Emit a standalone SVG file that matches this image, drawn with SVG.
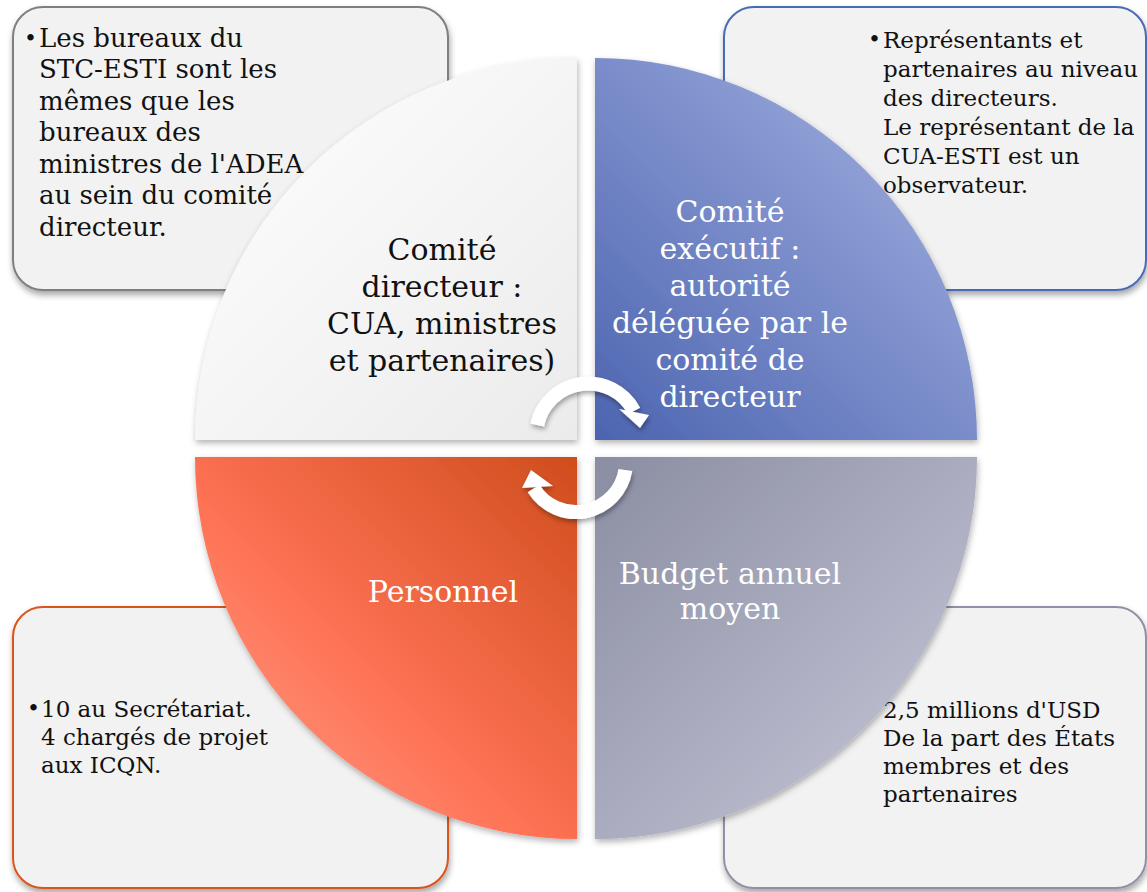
<svg xmlns="http://www.w3.org/2000/svg" width="1147" height="892" viewBox="0 0 1147 892">
<defs>
<style>
.box{fill:#f2f2f2;stroke-width:2;filter:url(#bshadow)}
.bt{font-family:"DejaVu Serif","Liberation Serif",serif;font-size:23px;fill:#111}
.bt2{font-family:"DejaVu Serif","Liberation Serif",serif;font-size:26px;fill:#111}
.bul{font-family:"DejaVu Serif","Liberation Serif",serif;font-size:22px;fill:#111}
.qt{font-family:"DejaVu Serif","Liberation Serif",serif;font-size:30px;text-anchor:middle}
.arc{fill:none;stroke:#fff;stroke-width:14}
</style>
<filter id="bshadow" x="-10%" y="-10%" width="120%" height="125%"><feDropShadow dx="1" dy="4" stdDeviation="3" flood-color="#000" flood-opacity="0.35"/></filter>
<filter id="qshadow" x="-10%" y="-10%" width="120%" height="120%"><feDropShadow dx="1" dy="3" stdDeviation="3" flood-color="#000" flood-opacity="0.3"/></filter>
<filter id="ashadow" x="-30%" y="-30%" width="160%" height="160%"><feDropShadow dx="1" dy="3" stdDeviation="2.5" flood-color="#000" flood-opacity="0.35"/></filter>
<linearGradient id="gTL" x1="0" y1="0" x2="1" y2="1"><stop offset="0" stop-color="#ffffff"/><stop offset="1" stop-color="#ebebeb"/></linearGradient>
<linearGradient id="gTR" x1="1" y1="0" x2="0" y2="1"><stop offset="0" stop-color="#a9b6e4"/><stop offset="1" stop-color="#4c64b0"/></linearGradient>
<linearGradient id="gBL" x1="0" y1="1" x2="1" y2="0"><stop offset="0" stop-color="#ffa391"/><stop offset="0.45" stop-color="#fe7254"/><stop offset="1" stop-color="#cf4d1d"/></linearGradient>
<linearGradient id="gBR" x1="0" y1="0" x2="1" y2="1"><stop offset="0" stop-color="#8b8da2"/><stop offset="1" stop-color="#c9cadb"/></linearGradient>
</defs>
<g id="box-tl">
<rect class="box" x="13" y="7" width="435" height="283" rx="30" stroke="#7f7f7f"/>
<text class="bul" x="24" y="46">•</text>
<text class="bt2" x="39" y="47">Les bureaux du<tspan x="39" y="78">STC-ESTI sont les</tspan><tspan x="39" y="110">mêmes que les</tspan><tspan x="39" y="141">bureaux des</tspan><tspan x="39" y="173">ministres de l'ADEA</tspan><tspan x="39" y="204">au sein du comité</tspan><tspan x="39" y="236">directeur.</tspan></text>
</g>
<g id="box-tr">
<rect class="box" x="724" y="7" width="422" height="283" rx="30" stroke="#4a6ab4"/>
<text class="bul" x="868" y="47">•</text>
<text class="bt" x="883" y="48">Représentants et<tspan x="883" y="77">partenaires au niveau</tspan><tspan x="883" y="106">des directeurs.</tspan><tspan x="883" y="135">Le représentant de la</tspan><tspan x="883" y="164">CUA-ESTI est un</tspan><tspan x="883" y="193">observateur.</tspan></text>
</g>
<g id="box-bl">
<rect class="box" x="13" y="607" width="435" height="281" rx="30" stroke="#d9541e"/>
<text class="bul" x="27" y="716">•</text>
<text class="bt" x="41" y="717">10 au Secrétariat.<tspan x="41" y="745">4 chargés de projet</tspan><tspan x="41" y="773">aux ICQN.</tspan></text>
</g>
<g id="box-br">
<rect class="box" x="724" y="607" width="422" height="281" rx="30" stroke="#8f91a6"/>
<text class="bt" x="883" y="718">2,5 millions d'USD<tspan x="883" y="746">De la part des États</tspan><tspan x="883" y="774">membres et des</tspan><tspan x="883" y="802">partenaires</tspan></text>
</g>
<g id="q-tl">
<path d="M577,440 L195,440 A382,382 0 0 1 577,58 Z" fill="url(#gTL)" filter="url(#qshadow)"/>
<text class="qt" x="442" y="260" fill="#111">Comité<tspan x="442" y="297">directeur :</tspan><tspan x="442" y="334">CUA, ministres</tspan><tspan x="442" y="371">et partenaires)</tspan></text>
</g>
<g id="q-tr">
<path d="M595,440 L595,58 A382,382 0 0 1 977,440 Z" fill="url(#gTR)" filter="url(#qshadow)"/>
<text class="qt" x="730" y="222" fill="#fff">Comité<tspan x="730" y="259">exécutif :</tspan><tspan x="730" y="296">autorité</tspan><tspan x="730" y="333">déléguée par le</tspan><tspan x="730" y="370">comité de</tspan><tspan x="730" y="407">directeur</tspan></text>
</g>
<g id="q-bl">
<path d="M577,457 L577,839 A382,382 0 0 1 195,457 Z" fill="url(#gBL)" filter="url(#qshadow)"/>
<text class="qt" x="443" y="602" fill="#fff">Personnel</text>
</g>
<g id="q-br">
<path d="M595,457 L977,457 A382,382 0 0 1 595,839 Z" fill="url(#gBR)" filter="url(#qshadow)"/>
<text class="qt" x="730" y="584" fill="#fff">Budget annuel<tspan x="730" y="619">moyen</tspan></text>
</g>
<g id="connectors" filter="url(#ashadow)">
<path class="arc" d="M537.2,425 A52,52 0 0 1 634,411"/>
<polygon points="619,409 649,415 640,428" fill="#fff"/>
<path class="arc" d="M625.4,470 A50,50 0 0 1 533.6,488.5"/>
<polygon points="522,488 553,486 531,470" fill="#fff"/>
</g>
</svg>
